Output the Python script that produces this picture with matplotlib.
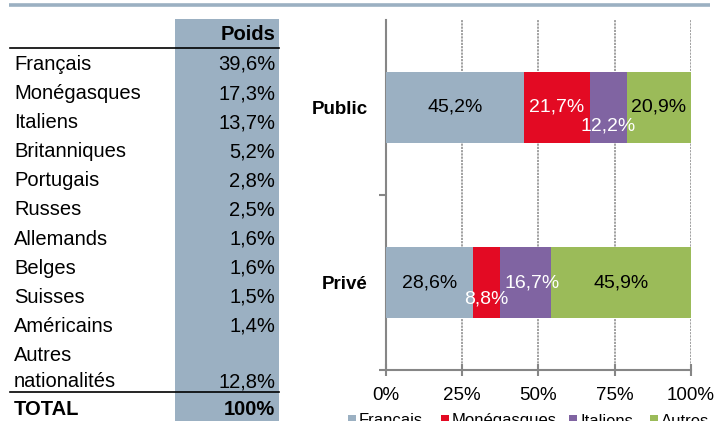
import matplotlib
matplotlib.use("Agg")
import matplotlib.pyplot as plt
from matplotlib.patches import Rectangle

plt.rcParams['font.family'] = ['Liberation Sans', 'DejaVu Sans']

# table data
nationalites = ["Français", "Monégasques", "Italiens", "Britanniques", "Portugais",
                "Russes", "Allemands", "Belges", "Suisses", "Américains",
                "Autres\nnationalités"]
poids = ["39,6%", "17,3%", "13,7%", "5,2%", "2,8%", "2,5%", "1,6%", "1,6%",
         "1,5%", "1,4%", "12,8%"]
total_label = "TOTAL"
total_value = "100%"

# chart data
secteurs = ["Public", "Privé"]
series = ["Français", "Monégasques", "Italiens", "Autres"]
public = [45.2, 21.7, 12.2, 20.9]
prive = [28.6, 8.8, 16.7, 45.9]

colors = ["#9BB0C2", "#E30A23", "#8064A2", "#9BBB59"]
label_colors = ["black", "white", "white", "black"]
# label nudges (points) for the narrow segments
nudge_public = [(0, 0), (0, 0), (0, -13.5), (0, 0)]
nudge_prive = [(0, 0), (0, -12), (4.5, 0), (0, 0)]
legend_x = [348, 441, 569, 650]

W, H = 715, 421
fig = plt.figure(figsize=(W / 100, H / 100), dpi=100)

# background layer in pixel coordinates for the table
bg = fig.add_axes([0, 0, 1, 1])
bg.set_xlim(0, W)
bg.set_ylim(H, 0)
bg.axis("off")

bg.plot([9, 710], [5, 5], color="#9BB0C2", lw=2.6, solid_capstyle="butt")
bg.add_patch(Rectangle((175, 19), 104, H - 19, color="#9BB0C2", lw=0))
bg.plot([10, 279], [47.5, 47.5], color="black", lw=1.2)
bg.plot([10, 279], [391.5, 391.5], color="black", lw=1.2)

fs = 14.5
bg.text(275, 35, "Poids", ha="right", va="center", fontsize=fs, fontweight="bold")
y = 64.5
for nat, p in zip(nationalites, poids):
    lines = nat.split("\n")
    if len(lines) > 1:
        for k, ln in enumerate(lines):
            bg.text(14, y + k * 26, ln, ha="left", va="center", fontsize=fs)
        bg.text(275, y + (len(lines) - 1) * 26, p, ha="right", va="center", fontsize=fs)
        y += (len(lines) - 1) * 26 + 28
    else:
        bg.text(14, y, nat, ha="left", va="center", fontsize=fs)
        bg.text(275, y, p, ha="right", va="center", fontsize=fs)
        y += 29.1
bg.text(14, 409.5, total_label, ha="left", va="center", fontsize=fs, fontweight="bold")
bg.text(275, 409.5, total_value, ha="right", va="center", fontsize=fs, fontweight="bold")

# legend, cut by the bottom edge as in the source
for lx, name, c in zip(legend_x, series, colors):
    bg.add_patch(Rectangle((lx, 415), 8, 8, color=c, lw=0, clip_on=False))
    bg.text(lx + 11, 425.5, name, ha="left", va="baseline", fontsize=12)

# stacked bar chart
ax = fig.add_axes([386 / W, 1 - 370 / H, (690.7 - 386) / W, 350 / H])
ax.set_zorder(2)
ax.patch.set_alpha(0)

data = [public, prive]
nudges = [nudge_public, nudge_prive]
for j, name in enumerate(series):
    vals = [d[j] for d in data]
    lefts = [sum(d[:j]) for d in data]
    bars = ax.barh(range(len(secteurs)), vals, left=lefts, height=0.405,
                   color=colors[j], label=name, zorder=3)
    for i, b in enumerate(bars):
        cx = b.get_x() + b.get_width() / 2
        cy = b.get_y() + b.get_height() / 2
        ax.annotate(f"{vals[i]:.1f}%".replace(".", ","), (cx, cy),
                    xytext=nudges[i][j], textcoords="offset points",
                    ha="center", va="center", fontsize=14,
                    color=label_colors[j], zorder=4)

ax.set_xlim(0, 100)
ax.set_ylim(1.5, -0.5)
ax.set_xticks([0, 25, 50, 75, 100])
ax.set_xticklabels(["0%", "25%", "50%", "75%", "100%"], fontsize=13.5)
ax.set_yticks([0, 1])
ax.set_yticklabels(secteurs, fontsize=13.5, fontweight="bold")
ax.set_yticks([0.5, 1.5], minor=True)
ax.tick_params(axis="y", which="major", length=0, pad=13)
ax.tick_params(axis="y", which="minor", length=5, width=1.5, color="#868686")
ax.tick_params(axis="x", which="major", length=9, width=1.5, color="#868686",
               direction="inout", pad=8)
ax.xaxis.grid(True, linestyle=(0, (1.2, 0.6)), color="#9A9A9A", lw=1.3, zorder=1)
ax.set_axisbelow(True)
for s in ["top", "right"]:
    ax.spines[s].set_visible(False)
for s in ["left", "bottom"]:
    ax.spines[s].set_color("#868686")
    ax.spines[s].set_linewidth(1.5)
ax.spines["bottom"].set_zorder(5)

fig.savefig("out.png", dpi=100)
